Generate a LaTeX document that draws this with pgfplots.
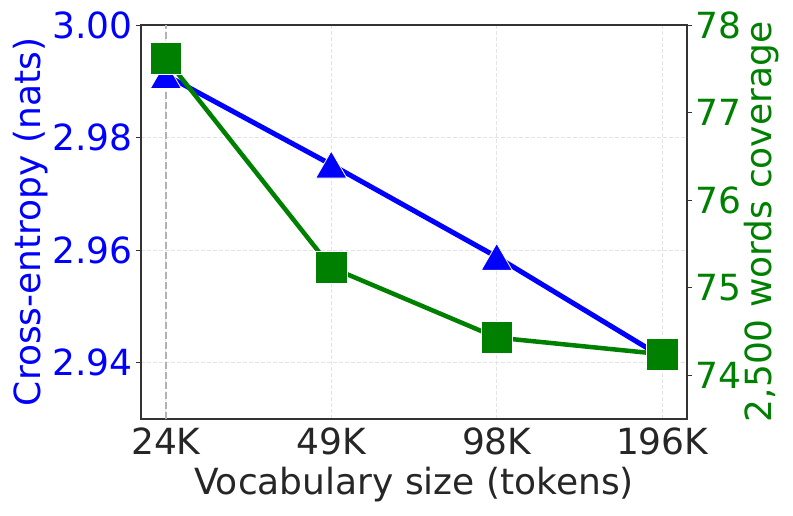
\documentclass[border=0pt]{standalone}
\usepackage{pgfplots}
\pgfplotsset{compat=1.18}
\usepackage{fontspec}
\setmainfont{DejaVu Sans}
\definecolor{mblue}{rgb}{0,0,1}
\definecolor{mgreen}{rgb}{0,0.502,0}
\definecolor{txt}{HTML}{262626}
\definecolor{frame}{HTML}{333333}
\begin{document}
\begin{tikzpicture}
\path[use as bounding box] (0,0) rectangle (793pt,515pt);
\begin{axis}[
  at={(141pt,96pt)}, anchor=south west,
  scale only axis, width=546pt, height=394pt,
  xmin=-0.15, xmax=3.15, ymin=2.93, ymax=3.00,
  xtick={0,1,2,3}, xticklabels={24K,49K,98K,196K},
  ytick={2.94,2.96,2.98,3.00}, yticklabels={2.94,2.96,2.98,3.00},
  xtick pos=bottom, ytick pos=left,
  tick align=outside,
  major tick length=5pt,
  xtick style={draw=none},
  ytick style={frame, line width=1pt},
  axis line style={frame, line width=1.2pt},
  grid=major,
  major grid style={gray!22, dash pattern=on 4pt off 2pt, line width=0.7pt},
  tick label style={font=\fontsize{36}{43}\selectfont, inner sep=3.5pt},
  xticklabel style={text=txt, inner sep=3.5pt},
  yticklabel style={text=mblue},
  xlabel={Vocabulary size (tokens)},
  ylabel={Cross-entropy (nats)},
  label style={font=\fontsize{36}{43}\selectfont},
  xlabel style={text=txt, at={(axis description cs:0.5,-0.167)}, anchor=center},
  ylabel style={text=mblue, at={(axis description cs:-0.2025,0.5)}, anchor=center},
]
\addplot[gray!60, line width=1.5pt, dash pattern=on 7pt off 3pt, forget plot] coordinates {(0,2.93) (0,3.00)};
\addplot[mblue, line width=5pt, mark=triangle*, mark size=18pt,
  mark options={fill=mblue, draw=white, line width=0.8pt, yshift=-4.5pt}]
  coordinates {(0,2.9911) (1,2.9752) (2,2.9588) (3,2.9410)};
\end{axis}
\begin{axis}[
  at={(141pt,96pt)}, anchor=south west,
  scale only axis, width=546pt, height=394pt,
  xmin=-0.15, xmax=3.15, ymin=73.5, ymax=78,
  axis x line=none, axis y line*=right,
  ytick={74,75,76,77,78}, yticklabels={74,75,76,77,78},
  tick align=outside, major tick length=5pt,
  ytick style={frame, line width=1pt},
  axis line style={frame, line width=1.2pt},
  tick label style={font=\fontsize{36}{43}\selectfont, inner sep=3.5pt},
  yticklabel style={text=mgreen},
  ylabel={2,500 words coverage},
  label style={font=\fontsize{36}{43}\selectfont},
  ylabel style={text=mgreen, at={(axis description cs:1.136,0.5)}, anchor=center, rotate=0},
]
\addplot[mgreen, line width=4.5pt, mark=square*, mark size=15.8pt,
  mark options={fill=mgreen, draw=white, line width=0.8pt}]
  coordinates {(0,77.62) (1,75.23) (2,74.43) (3,74.24)};
\end{axis}
\end{tikzpicture}
\end{document}
